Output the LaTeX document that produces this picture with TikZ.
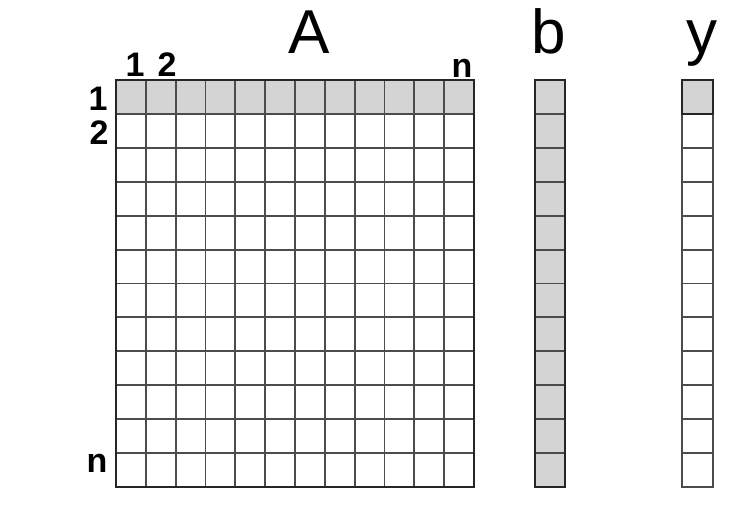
\documentclass[tikz,border=0pt]{standalone}
\usepackage{fontspec}
\setmainfont{Liberation Sans}
\begin{document}
\begin{tikzpicture}[x=1pt,y=-1pt,
  gridline/.style={draw=black!70,line width=1.9pt,line cap=rect},
  outline/.style={draw=black!85,line width=2.2pt,line join=miter},
  shaded/.style={fill=black!17},
  biglabel/.style={anchor=base,inner sep=0pt,font=\fontsize{62}{62}\selectfont},
  idx/.style={anchor=base,inner sep=0pt,font=\fontsize{34}{34}\selectfont\bfseries}]
\useasboundingbox (0,0) rectangle (750,506);
\fill[white] (0,0) rectangle (750,506);
% matrix A
\fill[shaded] (116,80) rectangle (474,{80+407/12});
\foreach \i in {0,...,12} {
  \draw[gridline] ({116+\i*358/12},80) -- ({116+\i*358/12},487);
  \draw[gridline] (116,{80+\i*407/12}) -- (474,{80+\i*407/12});
}
\draw[outline] (116,80) rectangle (474,487);
% vector b
\fill[shaded] (535,80) rectangle (565,487);
\foreach \i in {1,...,11} {
  \draw[gridline] (535,{80+\i*407/12}) -- (565,{80+\i*407/12});
}
\draw[outline] (535,80) rectangle (565,487);
% vector y
\fill[shaded] (682,80) rectangle (713,{80+407/12});
\foreach \i in {1,...,11} {
  \draw[gridline] (682,{80+\i*407/12}) -- (713,{80+\i*407/12});
}
\draw[gridline] (682,80) rectangle (713,487);
\draw[outline] (682,80) rectangle (713,{80+407/12});
% labels
\node[biglabel] (labA) at (309,53) {A};
\node[biglabel] (labb) at (549,53) {b};
\node[biglabel] (laby) at (702,53) {y};
\node[idx] (c1) at (135,76) {1};
\node[idx] (c2) at (167,76) {2};
\node[idx] (cn) at (462,77) {n};
\node[idx] (r1) at (98,110) {1};
\node[idx] (r2) at (99,144) {2};
\node[idx] (rn) at (97,472) {n};
\end{tikzpicture}
\end{document}
